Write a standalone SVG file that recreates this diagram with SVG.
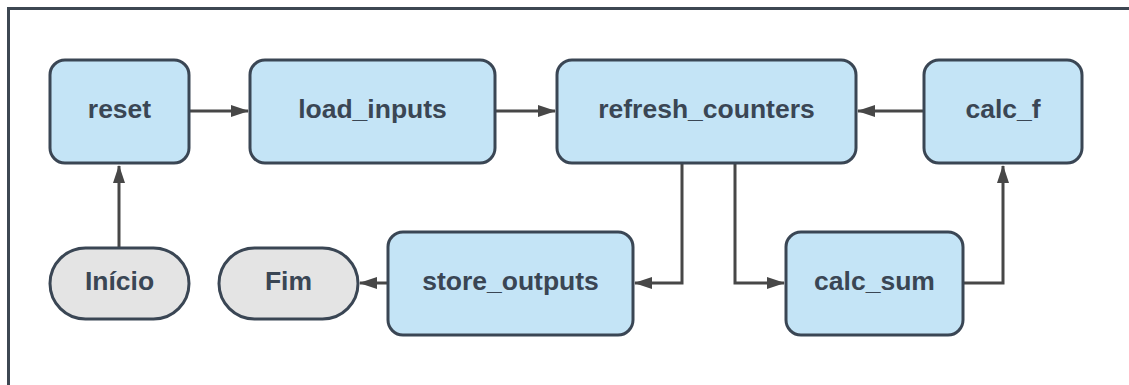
<svg xmlns="http://www.w3.org/2000/svg" width="1129" height="385" viewBox="0 0 1129 385">
  <style>
    .frame { fill: #ffffff; stroke: #3d4752; stroke-width: 3; }
    .task { fill: #c4e4f6; stroke: #3a4654; stroke-width: 3; }
    .term { fill: #e4e4e4; stroke: #3a4654; stroke-width: 3; }
    .label { font-family: "Liberation Sans", Arial, sans-serif; font-weight: bold; font-size: 26.5px; fill: #3a4654; text-anchor: middle; }
    .edge { fill: none; stroke: #474747; stroke-width: 3; }
  </style>
  <defs>
    <marker id="arrow" viewBox="0 0 18 12" refX="17" refY="6" markerWidth="18" markerHeight="12" markerUnits="userSpaceOnUse" orient="auto">
      <path d="M0,0 L18,6 L0,12 Z" fill="#474747"/>
    </marker>
  </defs>

  <!-- outer frame, running past the canvas on the right and bottom -->
  <rect class="frame" x="8.5" y="8.5" width="1140" height="400"/>

  <g id="connectors">
    <path class="edge" d="M189,111 H248" marker-end="url(#arrow)"/>
    <path class="edge" d="M495,111 H555" marker-end="url(#arrow)"/>
    <path class="edge" d="M924,111 H858" marker-end="url(#arrow)"/>
    <path class="edge" d="M682,163 V283 H635" marker-end="url(#arrow)"/>
    <path class="edge" d="M735,163 V283 H784" marker-end="url(#arrow)"/>
    <path class="edge" d="M963,283 H1003 V166" marker-end="url(#arrow)"/>
    <path class="edge" d="M388,283 H360" marker-end="url(#arrow)"/>
    <path class="edge" d="M119,248 V166" marker-end="url(#arrow)"/>
  </g>

  <g id="reset">
    <rect class="task" x="50" y="60" width="139" height="103" rx="15"/>
    <text class="label" x="119.5" y="117.5">reset</text>
  </g>
  <g id="load_inputs">
    <rect class="task" x="250" y="60" width="245" height="103" rx="15"/>
    <text class="label" x="372.5" y="117.5">load_inputs</text>
  </g>
  <g id="refresh_counters">
    <rect class="task" x="557" y="60" width="299" height="103" rx="15"/>
    <text class="label" x="706.5" y="117.5">refresh_counters</text>
  </g>
  <g id="calc_f">
    <rect class="task" x="924" y="60" width="158" height="103" rx="15"/>
    <text class="label" x="1003" y="117.5">calc_f</text>
  </g>
  <g id="store_outputs">
    <rect class="task" x="388" y="232" width="245" height="103" rx="15"/>
    <text class="label" x="510.5" y="289.5">store_outputs</text>
  </g>
  <g id="calc_sum">
    <rect class="task" x="786" y="232" width="177" height="103" rx="15"/>
    <text class="label" x="874.5" y="289.5">calc_sum</text>
  </g>
  <g id="inicio">
    <rect class="term" x="50" y="248" width="139" height="71" rx="35.5"/>
    <text class="label" x="119.5" y="290">Início</text>
  </g>
  <g id="fim">
    <rect class="term" x="219" y="248" width="139" height="71" rx="35.5"/>
    <text class="label" x="288.5" y="290">Fim</text>
  </g>
</svg>
